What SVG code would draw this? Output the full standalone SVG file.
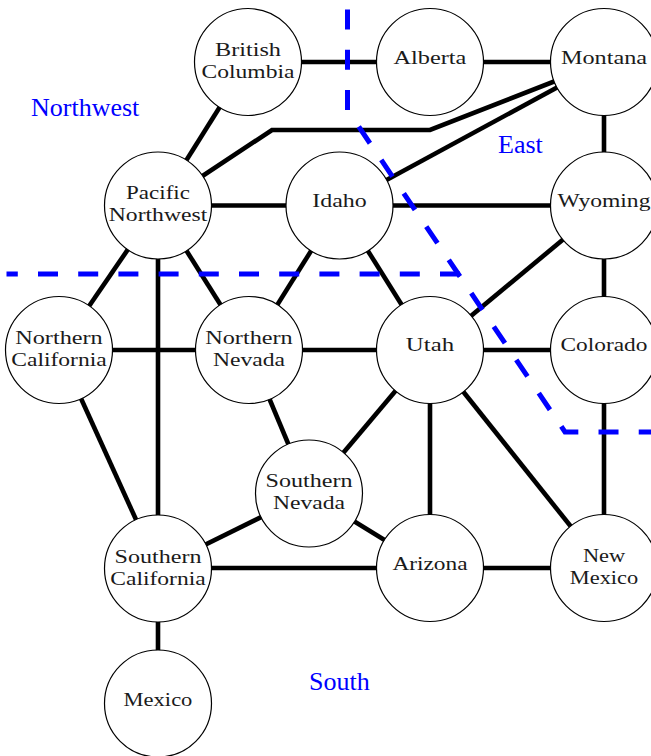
<svg xmlns="http://www.w3.org/2000/svg" width="651" height="756" viewBox="0 0 651 756">
<style>
.edge{stroke:#000;stroke-width:4.6;fill:none;stroke-linejoin:miter}
.node circle{fill:#fff;stroke:#000;stroke-width:1.2}
.node text{font-family:"Liberation Serif","DejaVu Serif",serif;font-size:19.8px;fill:#1a1a1a;text-anchor:middle}
.region{stroke:#0000ff;stroke-width:5;fill:none;stroke-dasharray:20 20.2;stroke-linejoin:miter}
.rlabel{font-family:"Liberation Serif","DejaVu Serif",serif;font-size:26px;fill:#0000ff}
</style>
<rect width="651" height="756" fill="#fff"/>
<g id="connectors">
<line class="edge" x1="248" y1="62" x2="430" y2="62"/>
<line class="edge" x1="430" y1="62" x2="604" y2="62"/>
<line class="edge" x1="248" y1="62" x2="158" y2="205.5"/>
<polyline class="edge" points="158,205.5 272,130 430,130 604,62"/>
<line class="edge" x1="339.5" y1="205.5" x2="604" y2="62"/>
<line class="edge" x1="604" y1="62" x2="604" y2="205.5"/>
<line class="edge" x1="158" y1="205.5" x2="339.5" y2="205.5"/>
<line class="edge" x1="339.5" y1="205.5" x2="604" y2="205.5"/>
<line class="edge" x1="604" y1="205.5" x2="430" y2="350"/>
<line class="edge" x1="604" y1="205.5" x2="604" y2="350"/>
<line class="edge" x1="158" y1="205.5" x2="59" y2="350"/>
<line class="edge" x1="158" y1="205.5" x2="249" y2="350"/>
<line class="edge" x1="158" y1="205.5" x2="158" y2="568"/>
<line class="edge" x1="339.5" y1="205.5" x2="249" y2="350"/>
<line class="edge" x1="339.5" y1="205.5" x2="430" y2="350"/>
<line class="edge" x1="59" y1="350" x2="249" y2="350"/>
<line class="edge" x1="249" y1="350" x2="430" y2="350"/>
<line class="edge" x1="430" y1="350" x2="604" y2="350"/>
<line class="edge" x1="59" y1="350" x2="158" y2="568"/>
<line class="edge" x1="249" y1="350" x2="309" y2="493.5"/>
<line class="edge" x1="430" y1="350" x2="309" y2="493.5"/>
<line class="edge" x1="430" y1="350" x2="430" y2="568"/>
<line class="edge" x1="430" y1="350" x2="604" y2="568"/>
<line class="edge" x1="604" y1="350" x2="604" y2="568"/>
<line class="edge" x1="309" y1="493.5" x2="158" y2="568"/>
<line class="edge" x1="309" y1="493.5" x2="430" y2="568"/>
<line class="edge" x1="158" y1="568" x2="430" y2="568"/>
<line class="edge" x1="430" y1="568" x2="604" y2="568"/>
<line class="edge" x1="158" y1="568" x2="158" y2="703.5"/>
</g>
<g id="british-columbia" class="node"><circle cx="248" cy="62" r="53.5"/><text x="248" y="55.5" textLength="65.9" lengthAdjust="spacingAndGlyphs">British</text><text x="248" y="77.5" textLength="92.9" lengthAdjust="spacingAndGlyphs">Columbia</text></g>
<g id="alberta" class="node"><circle cx="430" cy="62" r="53.5"/><text x="430" y="63.5" textLength="72.8" lengthAdjust="spacingAndGlyphs">Alberta</text></g>
<g id="montana" class="node"><circle cx="604" cy="62" r="53.5"/><text x="604" y="63.5" textLength="86.2" lengthAdjust="spacingAndGlyphs">Montana</text></g>
<g id="pacific-northwest" class="node"><circle cx="158" cy="205.5" r="53.5"/><text x="158" y="199" textLength="63.9" lengthAdjust="spacingAndGlyphs">Pacific</text><text x="158" y="221" textLength="98.5" lengthAdjust="spacingAndGlyphs">Northwest</text></g>
<g id="idaho" class="node"><circle cx="339.5" cy="205.5" r="53.5"/><text x="339.5" y="207" textLength="54.4" lengthAdjust="spacingAndGlyphs">Idaho</text></g>
<g id="wyoming" class="node"><circle cx="604" cy="205.5" r="53.5"/><text x="604" y="207" textLength="92.9" lengthAdjust="spacingAndGlyphs">Wyoming</text></g>
<g id="northern-california" class="node"><circle cx="59" cy="350" r="53.5"/><text x="59" y="343.5" textLength="87.5" lengthAdjust="spacingAndGlyphs">Northern</text><text x="59" y="365.5" textLength="95.5" lengthAdjust="spacingAndGlyphs">California</text></g>
<g id="northern-nevada" class="node"><circle cx="249" cy="350" r="53.5"/><text x="249" y="343.5" textLength="87.5" lengthAdjust="spacingAndGlyphs">Northern</text><text x="249" y="365.5" textLength="72.1" lengthAdjust="spacingAndGlyphs">Nevada</text></g>
<g id="utah" class="node"><circle cx="430" cy="350" r="53.5"/><text x="430" y="351" textLength="48.3" lengthAdjust="spacingAndGlyphs">Utah</text></g>
<g id="colorado" class="node"><circle cx="604" cy="350" r="53.5"/><text x="604" y="351" textLength="86.9" lengthAdjust="spacingAndGlyphs">Colorado</text></g>
<g id="southern-nevada" class="node"><circle cx="309" cy="493.5" r="53.5"/><text x="309" y="487" textLength="86.9" lengthAdjust="spacingAndGlyphs">Southern</text><text x="309" y="509" textLength="72.1" lengthAdjust="spacingAndGlyphs">Nevada</text></g>
<g id="southern-california" class="node"><circle cx="158" cy="568.5" r="53.5"/><text x="158" y="562.5" textLength="86.9" lengthAdjust="spacingAndGlyphs">Southern</text><text x="158" y="584.5" textLength="95.5" lengthAdjust="spacingAndGlyphs">California</text></g>
<g id="arizona" class="node"><circle cx="430" cy="568" r="53.5"/><text x="430" y="570" textLength="75.2" lengthAdjust="spacingAndGlyphs">Arizona</text></g>
<g id="new-mexico" class="node"><circle cx="604" cy="568" r="53.5"/><text x="604" y="562" textLength="42.2" lengthAdjust="spacingAndGlyphs">New</text><text x="604" y="584" textLength="68.4" lengthAdjust="spacingAndGlyphs">Mexico</text></g>
<g id="mexico" class="node"><circle cx="158" cy="703.5" r="53.5"/><text x="158" y="705.5" textLength="68.8" lengthAdjust="spacingAndGlyphs">Mexico</text></g>
<g id="regions">
<path class="region" d="M347.5,9.5 L347.5,110 L565,432 L660,432"/>
<path class="region" d="M460,274 L6.5,274"/>
<text class="rlabel" x="31" y="116">Northwest</text>
<text class="rlabel" x="498" y="153">East</text>
<text class="rlabel" x="309" y="690">South</text>
</g>
</svg>
